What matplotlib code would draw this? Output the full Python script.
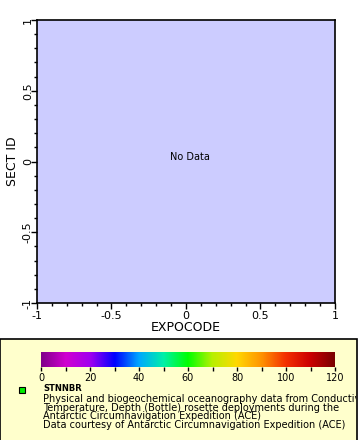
import matplotlib
matplotlib.use('Agg')
import matplotlib.pyplot as plt
import numpy as np
from matplotlib.colors import LinearSegmentedColormap
from matplotlib.patches import Rectangle
from matplotlib.transforms import Bbox

# axis ticks (no data in this plot)
x_ticks = [-1, -0.5, 0, 0.5, 1]
x_labels = ['-1', '-0.5', '0', '0.5', '1']
y_ticks = [-1, -0.5, 0, 0.5, 1]
y_labels = ['-1', '-0.5', '0', '0.5', '1']

# colour bar
cbar_min, cbar_max = 0, 120
cbar_ticks = [0, 20, 40, 60, 80, 100, 120]
cbar_colors = ['#80008a', '#d000d0', '#a000f0', '#0000ff', '#00a8ff', '#00f0a8',
               '#00ff00', '#b8f000', '#ffd800', '#ff9400', '#f43000', '#cc0000', '#7a0000']

legend_title = 'STNNBR'
legend_lines = [
    'Physical and biogeochemical oceanography data from Conductivity,',
    'Temperature, Depth (Bottle) rosette deployments during the',
    'Antarctic Circumnavigation Expedition (ACE)',
    'Data courtesy of Antarctic Circumnavigation Expedition (ACE)',
]

W, H = 360, 440
fig = plt.figure(figsize=(W / 100, H / 100), dpi=100)

def px(x0, y0, x1, y1):
    # pixel box (top-left origin) -> figure fraction rect
    return [x0 / W, 1 - y1 / H, (x1 - x0) / W, (y1 - y0) / H]

# main axes
ax = fig.add_axes(px(37, 20, 335, 303))
ax.set_facecolor('#ccccff')
ax.set_xlim(-1, 1)
ax.set_ylim(-1, 1)
ax.set_xticks(x_ticks)
ax.set_xticklabels(x_labels, fontsize=8)
ax.set_yticks(y_ticks)
ax.set_yticklabels(y_labels, fontsize=8, rotation=90, va='center')
ax.set_xticks(np.arange(-1, 1.01, 0.1), minor=True)
ax.set_yticks(np.arange(-1, 1.01, 0.1), minor=True)
ax.tick_params(which='major', length=4.5, width=1)
ax.tick_params(which='minor', length=2.5, width=1)
ax.tick_params(axis='x', which='major', pad=1.5)
ax.tick_params(axis='y', which='major', pad=-1.5)
for s in ax.spines.values():
    s.set_linewidth(1.2)
ax.set_xlabel('EXPOCODE', fontsize=9, labelpad=0)
ax.set_ylabel('SECT ID', fontsize=9, labelpad=3)
ax.annotate('No Data', (0, 0), xytext=(3, 3), textcoords='offset points',
            ha='center', va='center', fontsize=7)

# legend panel
panel = Rectangle((0, -0.01), 357 / W, 1.01 - 339 / H, transform=fig.transFigure,
                  facecolor='#ffffcc', edgecolor='black', linewidth=1.2, zorder=-1)
fig.patches.append(panel)

# colour bar
cmap = LinearSegmentedColormap.from_list('ferret_rainbow', cbar_colors)
cax = fig.add_axes(px(41, 352, 335, 367))
cax.set_zorder(2)
grad = np.linspace(cbar_min, cbar_max, 256).reshape(1, -1)
cax.imshow(grad, aspect='auto', cmap=cmap, extent=[cbar_min, cbar_max, 0, 1])
cax.set_xlim(cbar_min, cbar_max)
cax.set_yticks([])
cax.set_xticks(cbar_ticks)
cax.set_xticks(np.arange(cbar_min, cbar_max + 1, 10), minor=True)
cax.tick_params(axis='x', which='both', labelsize=7, length=3, width=1, pad=1)
for s in cax.spines.values():
    s.set_visible(False)

# legend entry
clip = Bbox.from_extents(0, 0, 356, H)
fig.lines.append(plt.Line2D([22 / W], [1 - 390 / H], transform=fig.transFigure,
                            marker='s', markersize=4.5, markerfacecolor='#00ee00',
                            markeredgecolor='black', markeredgewidth=0.8, zorder=3))
fig.text(43 / W, 1 - 391 / H, legend_title, fontsize=6, fontweight='bold', va='baseline')
for i, line in enumerate(legend_lines):
    t = fig.text(43 / W, 1 - (402 + 8.7 * i) / H, line, fontsize=7, va='baseline')
    t.set_clip_box(clip)
    t.set_clip_on(True)

fig.savefig('out.png', dpi=100)
